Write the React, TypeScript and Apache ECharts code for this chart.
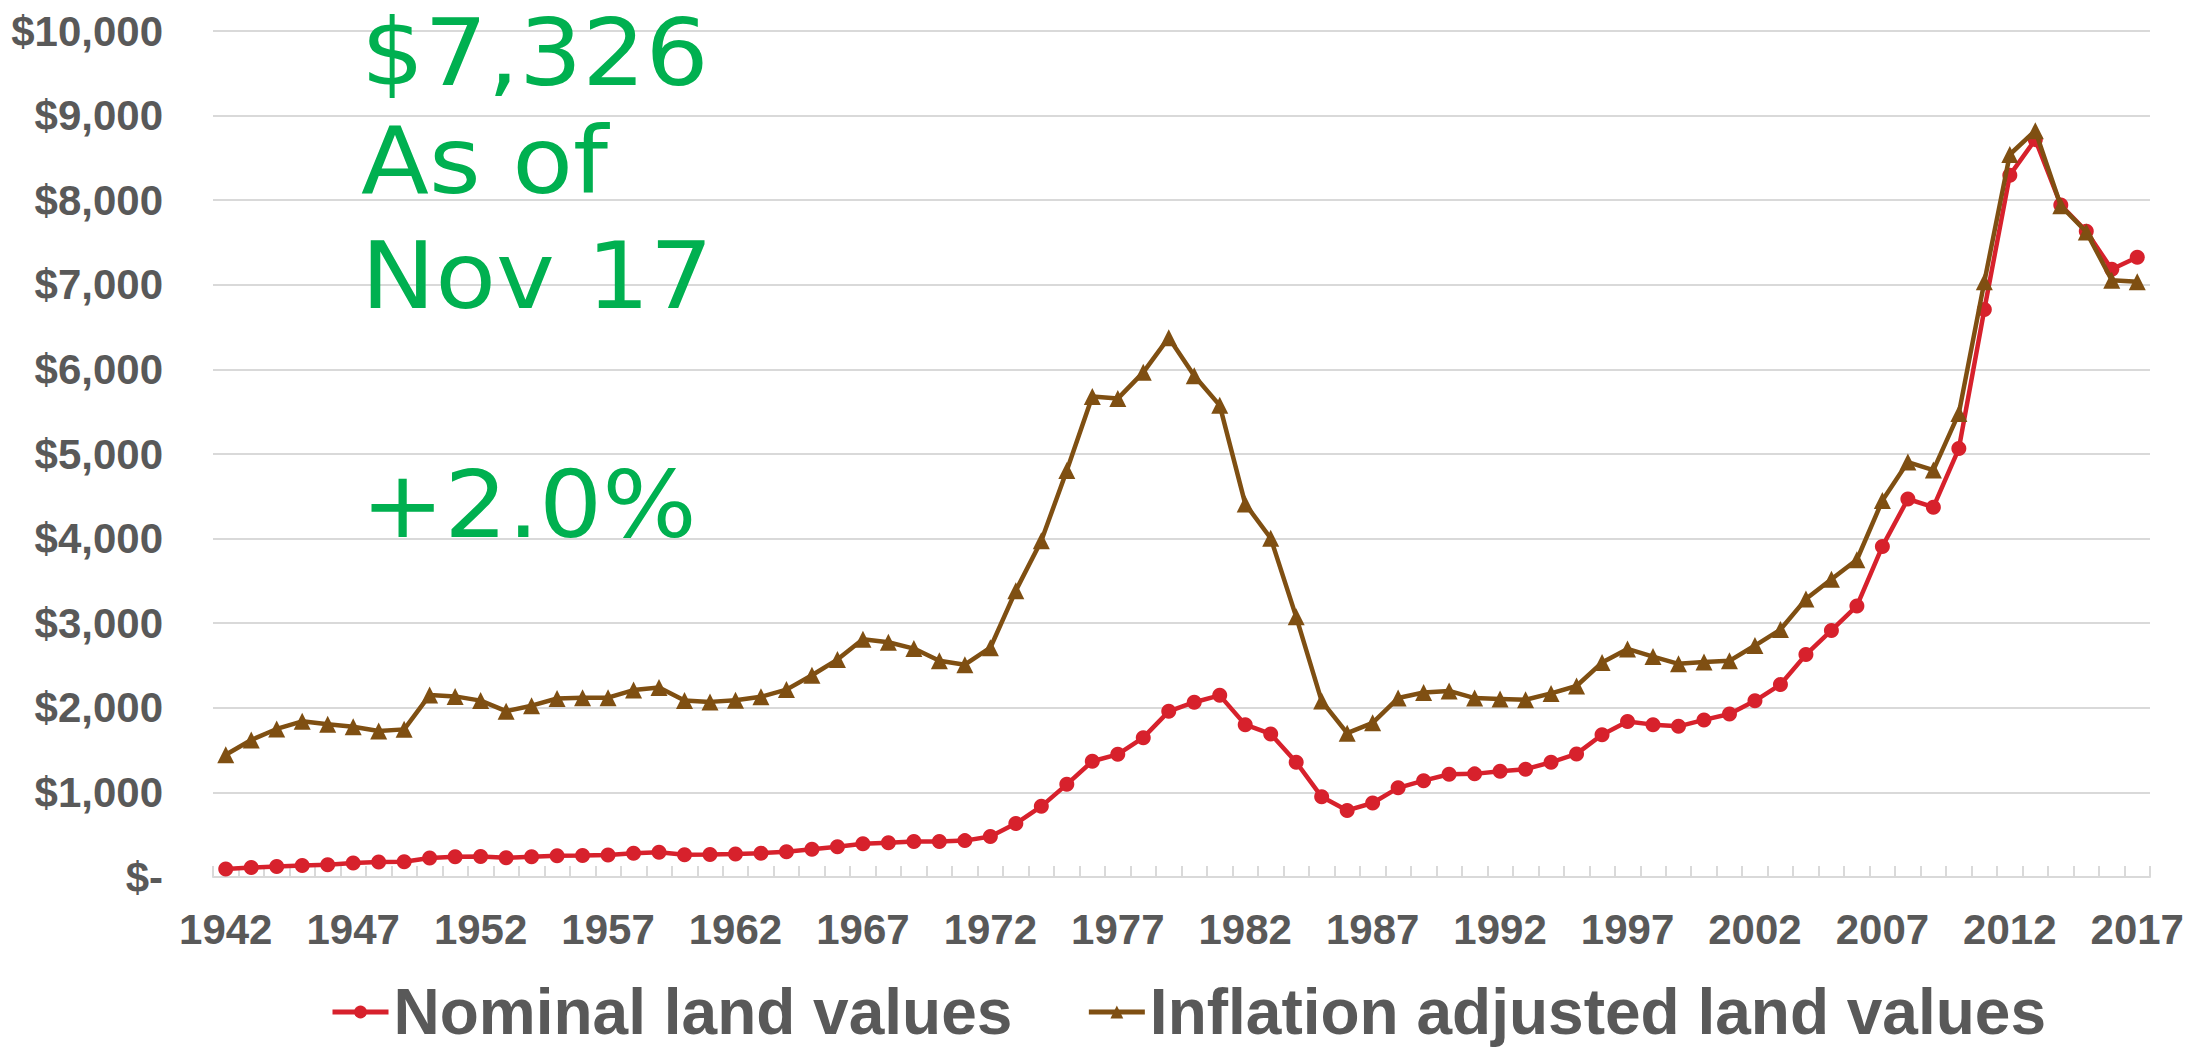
import React, { useEffect, useRef } from "react";
import * as echarts from "echarts";

const years = [
  "1942", "1943", "1944", "1945", "1946", "1947", "1948", "1949", "1950", "1951",
  "1952", "1953", "1954", "1955", "1956", "1957", "1958", "1959", "1960", "1961",
  "1962", "1963", "1964", "1965", "1966", "1967", "1968", "1969", "1970", "1971",
  "1972", "1973", "1974", "1975", "1976", "1977", "1978", "1979", "1980", "1981",
  "1982", "1983", "1984", "1985", "1986", "1987", "1988", "1989", "1990", "1991",
  "1992", "1993", "1994", "1995", "1996", "1997", "1998", "1999", "2000", "2001",
  "2002", "2003", "2004", "2005", "2006", "2007", "2008", "2009", "2010", "2011",
  "2012", "2013", "2014", "2015", "2016", "2017",
];

const nominal = [
  95, 112, 125, 137, 145, 165, 178, 180, 225, 240,
  242, 228, 238, 250, 253, 260, 280, 292, 262, 265,
  272, 282, 299, 327, 357, 392, 406, 419, 419, 430,
  479, 632, 835, 1095, 1368, 1450, 1647, 1958, 2066, 2147,
  1801, 1691, 1357, 948, 787, 875, 1054, 1139, 1214, 1219,
  1249, 1275, 1356, 1455, 1682, 1837, 1801, 1781, 1857, 1926,
  2083, 2275, 2629, 2914, 3204, 3908, 4468, 4371, 5064, 6708,
  8296, 8716, 7943, 7633, 7183, 7326,
];

const inflationAdjusted = [
  1445, 1620, 1750, 1840, 1805, 1775, 1725, 1745, 2150, 2135,
  2085, 1960, 2025, 2110, 2120, 2120, 2210, 2240, 2085, 2070,
  2090, 2130, 2215, 2385, 2570, 2810, 2775, 2700, 2555, 2510,
  2710, 3385, 3975, 4805, 5680, 5655, 5965, 6375, 5925, 5575,
  4410, 4005, 3075, 2080, 1700, 1822, 2115, 2180, 2200, 2115,
  2105, 2095, 2170, 2258, 2535, 2696, 2605, 2520, 2540, 2555,
  2736, 2925, 3285, 3520, 3750, 4450, 4905, 4810, 5480, 7035,
  8540, 8822, 7935, 7625, 7055, 7035,
];

const seriesNames = ["Nominal land values", "Inflation adjusted land values"];
const headlineLines = ["$7,326", "As of", "Nov 17", "", "+2.0%"];

const RED = "#D7212C";
const BROWN = "#7F4F12";
const GREEN = "#00B050";
const GRAY_TEXT = "#595959";
const GRID_GRAY = "#D9D9D9";
const FONT = "'Liberation Sans', Arial, Helvetica, sans-serif";

export default function App() {
  const ref = useRef<HTMLDivElement>(null);

  useEffect(() => {
    document.body.style.margin = "0";
    const chart = echarts.init(ref.current as HTMLDivElement, undefined, { renderer: "svg" });

    const lineH = 114.5;
    const graphic = headlineLines
      .map((t, i) => ({ t, i }))
      .filter((d) => d.t !== "")
      .map((d) => ({
        type: "text",
        x: 361,
        y: (d.i === 0 ? 53 : 47) + d.i * lineH,
        scaleX: 1.08,
        z: 100,
        style: {
          text: d.t,
          fill: GREEN,
          fontSize: 92,
          fontFamily: "'DejaVu Sans', sans-serif",
          fontWeight: "normal",
          verticalAlign: "middle",
          align: "left",
        },
      }));

    chart.setOption({
      animation: false,
      backgroundColor: "#ffffff",
      grid: { left: 213, right: 58, top: 31, bottom: 174, containLabel: false },
      legend: {
        left: 325,
        top: 975,
        itemWidth: 56,
        itemHeight: 16,
        itemGap: 74,
        lineStyle: { width: 5 },
        textStyle: {
          fontSize: 64,
          fontWeight: "bold",
          color: GRAY_TEXT,
          fontFamily: FONT,
        },
        data: seriesNames,
      },
      xAxis: {
        type: "category",
        data: years,
        boundaryGap: true,
        axisLine: { show: true, lineStyle: { color: GRID_GRAY, width: 2 } },
        axisTick: {
          show: true,
          inside: true,
          length: 11,
          interval: 0,
          lineStyle: { color: GRID_GRAY, width: 2 },
        },
        axisLabel: {
          interval: 4,
          margin: 31,
          color: GRAY_TEXT,
          fontSize: 42,
          fontWeight: "bold",
          fontFamily: FONT,
        },
        splitLine: { show: false },
      },
      yAxis: {
        type: "value",
        min: 0,
        max: 10000,
        interval: 1000,
        axisLine: { show: false },
        axisTick: { show: false },
        splitLine: { show: true, lineStyle: { color: GRID_GRAY, width: 2 } },
        axisLabel: {
          margin: 50,
          color: GRAY_TEXT,
          fontSize: 42,
          fontWeight: "bold",
          fontFamily: FONT,
          formatter: (v: number) => (v === 0 ? "$-" : "$" + v.toLocaleString("en-US")),
        },
      },
      series: [
        {
          name: seriesNames[0],
          type: "line",
          data: nominal,
          symbol: "circle",
          symbolSize: 15,
          showAllSymbol: true,
          lineStyle: { color: RED, width: 4.5 },
          itemStyle: { color: RED },
          z: 2,
        },
        {
          name: seriesNames[1],
          type: "line",
          data: inflationAdjusted,
          symbol: "triangle",
          symbolSize: 17,
          showAllSymbol: true,
          lineStyle: { color: BROWN, width: 4.5 },
          itemStyle: { color: BROWN },
          z: 3,
        },
      ],
      graphic,
    });

    return () => chart.dispose();
  }, []);

  return (
    <div
      ref={ref}
      style={{ position: "absolute", left: 0, top: 0, width: 2208, height: 1051, background: "#fff" }}
    />
  );
}
